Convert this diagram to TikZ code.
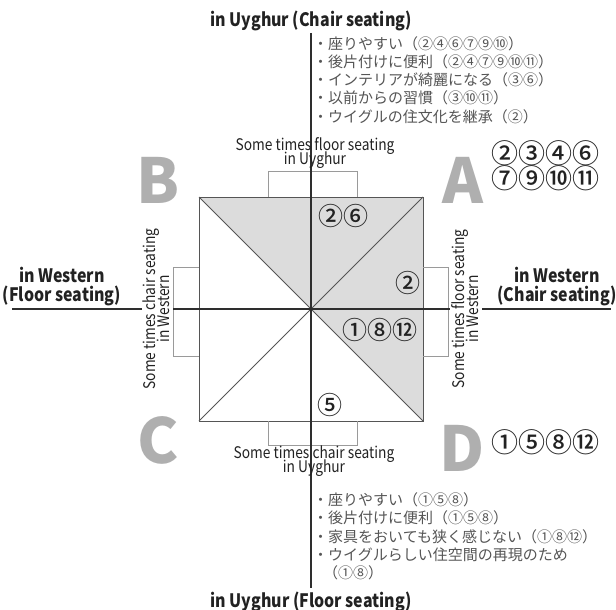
\documentclass[tikz,border=0pt]{standalone}
\usepackage{fontspec}
\setmainfont{Noto Sans CJK JP}
\newfontfamily\jpf{Noto Sans CJK JP}
\newfontfamily\cnf{Noto Sans CJK JP Medium}
\newfontfamily\latf[FakeStretch=0.86]{Noto Sans CJK JP}
\newcommand\tightls{\lineskiplimit=-30pt\relax}
\definecolor{axiscol}{HTML}{2E2E2E}
\definecolor{edgecol}{HTML}{555555}
\definecolor{shadecol}{HTML}{DCDCDC}
\definecolor{brkcol}{HTML}{9A9A9A}
\definecolor{bigcol}{HTML}{AFAFAF}
\definecolor{jcol}{HTML}{555555}
\definecolor{tcol}{HTML}{222222}
\begin{document}
\begin{tikzpicture}[x=1pt,y=-1pt,
  axisline/.style={draw=axiscol,line width=2pt},
  edgeline/.style={draw=edgecol,line width=0.9pt},
  bracketline/.style={draw=brkcol,line width=0.8pt},
  titletext/.style={font=\latf\bfseries\fontsize{18.5}{19}\selectfont,text=tcol,inner sep=0,align=center},
  sometext/.style={font=\latf\fontsize{16}{13.8}\selectfont\tightls,text=tcol,inner sep=0,align=center},
  jline/.style={font=\jpf\fontsize{15}{16}\selectfont,text=jcol,inner sep=0,anchor=west},
  bigletter/.style={font=\bfseries\fontsize{62}{62}\selectfont,text=bigcol,inner sep=0},
  circbig/.style={font=\cnf\fontsize{27}{27}\selectfont,text=tcol,inner sep=0},
  circin/.style={font=\cnf\fontsize{25}{25}\selectfont,text=tcol,inner sep=0},
]
\useasboundingbox (0,0) rectangle (616,610);
% square
\coordinate (O) at (311,309);
\coordinate (NW) at (199,197);
\coordinate (NE) at (423,197);
\coordinate (SE) at (423,421);
\coordinate (SW) at (199,421);
\fill[shadecol] (NW) -- (NE) -- (SE) -- (O) -- cycle;
\draw[edgeline] (NW) -- (NE) -- (SE) -- (SW) -- cycle;
\draw[edgeline] (NW) -- (SE);
\draw[edgeline] (NE) -- (SW);
% brackets
\coordinate (bt1) at (268,197); \coordinate (bt2) at (357,197);
\draw[bracketline] (bt1) -- ++(0,-26) -| (bt2);
\coordinate (bb1) at (268,421); \coordinate (bb2) at (357,421);
\draw[bracketline] (bb1) -- ++(0,24) -| (bb2);
\coordinate (bl1) at (199,267); \coordinate (bl2) at (199,356);
\draw[bracketline] (bl1) -- ++(-26,0) |- (bl2);
\coordinate (br1) at (423,267); \coordinate (br2) at (423,356);
\draw[bracketline] (br1) -- ++(25,0) |- (br2);
% axes
\coordinate (vTop) at (311,33);
\coordinate (vBot) at (311,588);
\draw[axisline] (vTop) -- (vBot);
\coordinate (hL1) at (12,309); \coordinate (hL2) at (142,309);
\coordinate (hM1) at (173,309); \coordinate (hM2) at (450,309);
\coordinate (hR1) at (482,309); \coordinate (hR2) at (611,309);
\draw[axisline] (hL1) -- (hL2);
\draw[axisline] (hM1) -- (hM2);
\draw[axisline] (hR1) -- (hR2);
% titles
\node[titletext] (tTop) at (311,21) {in Uyghur (Chair seating)};
\node[titletext] (tBot) at (311,602) {in Uyghur (Floor seating)};
\node[titletext] (tLeft) at (62,287) {in Western\\(Floor seating)};
\node[titletext] (tRight) at (557,287) {in Western\\(Chair seating)};
% some times
\node[sometext] (sTop) at (315,153) {Some times floor seating\\in Uyghur};
\node[sometext] (sBot) at (314,461) {Some times chair seating\\in Uyghur};
\node[sometext,rotate=90] (sLeft) at (156,309) {Some times chair seating\\in Western};
\node[sometext,rotate=90] (sRight) at (465,309) {Some times floor seating\\in Western};
% big letters
\node[bigletter] (lB) at (158,180) {B};
\node[bigletter] (lA) at (463,180) {A};
\node[bigletter] (lC) at (158,440) {C};
\node[bigletter] (lD) at (462,448) {D};
% circled numbers
\node[circbig] (cA1) at (545,153) {②③④⑥};
\node[circbig] (cA2) at (545,178) {⑦⑨⑩⑪};
\node[circbig] (cD) at (545,442) {①⑤⑧⑫};
\node[circin] (cN) at (343,216) {②⑥};
\node[circin] (cE) at (407.5,283) {②};
\node[circin] (cSE) at (380,330) {①⑧⑫};
\node[circin] (cS) at (329.5,405) {⑤};
% Japanese lists
\node[jline] (j1) at (313,44) {・座りやすい（②④⑥⑦⑨⑩）};
\node[jline] (j2) at (313,62) {・後片付けに便利（②④⑦⑨⑩⑪）};
\node[jline] (j3) at (313,80) {・インテリアが綺麗になる（③⑥）};
\node[jline] (j4) at (313,98) {・以前からの習慣（③⑩⑪）};
\node[jline] (j5) at (313,117) {・ウイグルの住文化を継承（②）};
\node[jline] (k1) at (313,500) {・座りやすい（①⑤⑧）};
\node[jline] (k2) at (313,518) {・後片付けに便利（①⑤⑧）};
\node[jline] (k3) at (313,537) {・家具をおいても狭く感じない（①⑧⑫）};
\node[jline] (k4) at (313,555) {・ウイグルらしい住空間の再現のため};
\node[jline] (k5) at (323,573) {（①⑧）};
\end{tikzpicture}
\end{document}
